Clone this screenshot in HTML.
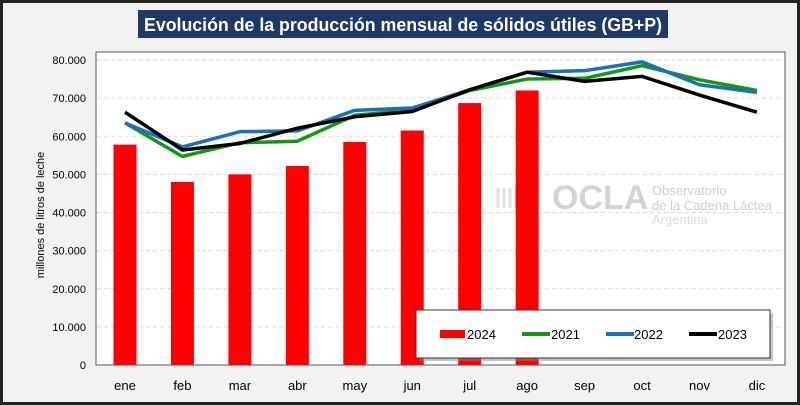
<!DOCTYPE html>
<html><head><meta charset="utf-8"><style>
body{margin:0;background:#fff}
#wrap{position:relative;width:800px;height:405px;overflow:hidden;font-family:"Liberation Sans",sans-serif}
</style></head><body>
<div id="wrap">
<svg id="svg" width="800" height="405" xmlns="http://www.w3.org/2000/svg">
<rect x="1.5" y="1.5" width="797" height="402" fill="#f2f2f2" stroke="#222" stroke-width="3"/>
<rect x="138" y="10" width="530" height="28" fill="#1f3864"/>
<text x="144" y="31" textLength="518" lengthAdjust="spacingAndGlyphs" fill="#fff" font-size="18" font-weight="bold">Evolución de la producción mensual de sólidos útiles (GB+P)</text>
<rect x="96" y="52" width="689" height="313" fill="#fff" stroke="#555" stroke-width="1"/>
<g id="grid"></g>
<g id="watermark" opacity="0.9">
<path d="M498 208 v-20 M504 208 v-20 M510 208 v-20 M516 208 v-20 M522 208 v-20 M528 208 v-20 M534 208 v-20" stroke="#ddd" stroke-width="3" fill="none"/>
<text x="552" y="209" font-size="34" font-weight="bold" fill="#d0d0d0">OCLA</text>
<text x="652" y="195" font-size="13" fill="#c8c8c8">Observatorio</text>
<text x="652" y="210" font-size="13" fill="#c8c8c8">de la Cadena Láctea</text>
<text x="652" y="224" font-size="13" fill="#d8d8d8">Argentina</text>
</g>
<g id="bars"></g>
<g id="lines"></g>
<g id="axes"></g>
<text transform="translate(44,215) rotate(-90)" text-anchor="middle" font-size="11" fill="#000">millones de litros de leche</text>
<g>
<rect x="419" y="313" width="354" height="48" fill="#888" opacity="0.5"/>
<rect x="416" y="310" width="354" height="48" fill="#fff" stroke="#333" stroke-width="1"/>
<rect x="440" y="330" width="25" height="8" fill="#ff0000"/>
<text x="467" y="339" font-size="13">2024</text>
<line x1="522" y1="334" x2="550" y2="334" stroke="#119911" stroke-width="4"/>
<text x="551" y="339" font-size="13">2021</text>
<line x1="606" y1="334" x2="634" y2="334" stroke="#1a70c0" stroke-width="4"/>
<text x="634" y="339" font-size="13">2022</text>
<line x1="689" y1="334" x2="717" y2="334" stroke="#000" stroke-width="4"/>
<text x="718" y="339" font-size="13">2023</text>
</g>
</svg>
</div>
<script>
const months=["ene","feb","mar","abr","may","jun","jul","ago","sep","oct","nov","dic"];
const s2024=[57800,48000,50000,52200,58500,61500,68700,72000];
const s2021=[63500,54700,58300,58700,65500,66800,72000,75000,75200,78500,74800,72000];
const s2022=[63500,57200,61200,61400,66800,67400,72200,76800,77200,79500,73500,71500];
const s2023=[66300,56400,58100,62100,65100,66500,72200,76800,74400,75700,70800,66300];
const yTicks=[0,10000,20000,30000,40000,50000,60000,70000,80000];
const yTickLabels=["0","10.000","20.000","30.000","40.000","50.000","60.000","70.000","80.000"];
const NS="http://www.w3.org/2000/svg";
function x(i){return 125+i*57.45;}
function y(v){return 365-v*305/80000;}
function mk(t,a,p){const e=document.createElementNS(NS,t);for(const k in a)e.setAttribute(k,a[k]);document.getElementById(p).appendChild(e);return e;}
yTicks.forEach((v,i)=>{
 if(v>0){const g=mk('line',{x1:97,x2:784,y1:y(v),y2:y(v),stroke:'#d9d9d9','stroke-dasharray':'4 3'},'grid');
 
 }
 const t=mk('text',{x:86,y:y(v)+4,'text-anchor':'end','font-size':'11'},'axes');t.textContent=yTickLabels[i];
 
 
});
months.forEach((m,i)=>{
 const t=mk('text',{x:x(i),y:390,'text-anchor':'middle','font-size':'13'},'axes');t.textContent=m;
 
 
});
s2024.forEach((v,i)=>{
 const r=mk('rect',{x:x(i)-11.5,y:y(v),width:23,height:365-y(v),fill:'#ff0000'},'bars');
 
 
});
[[s2021,'#119911','line-2021'],[s2022,'#1a70c0','line-2022'],[s2023,'#000','line-2023']].forEach(([d,c,n])=>{
 const l=mk('polyline',{points:d.map((v,i)=>x(i)+','+y(v)).join(' '),fill:'none',stroke:c,'stroke-width':3.5,'stroke-linejoin':'round'},'lines');
 
 
});
</script>
</body></html>
